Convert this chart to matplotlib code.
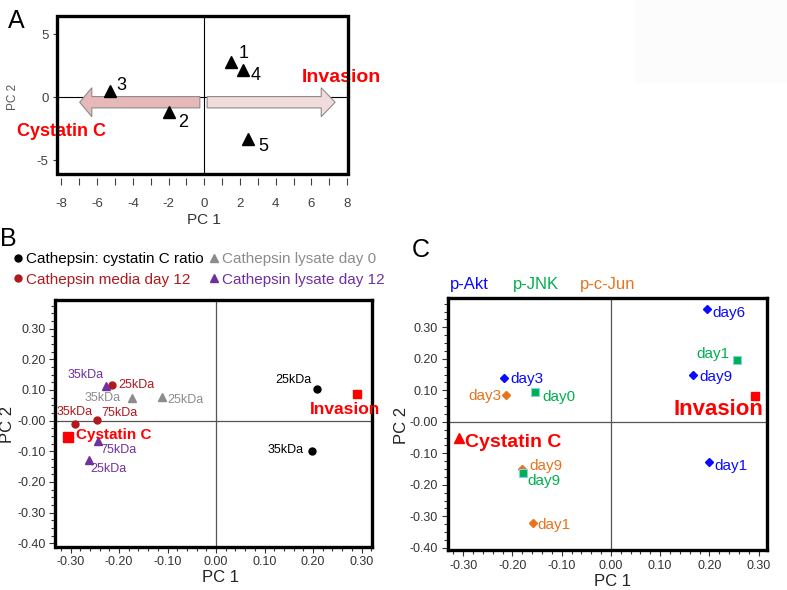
import matplotlib
matplotlib.use('Agg')
import matplotlib.pyplot as plt
from matplotlib.patches import Polygon, Rectangle
from matplotlib.ticker import MultipleLocator, FixedLocator, FixedFormatter

plt.rcParams['font.family'] = ['Liberation Sans', 'DejaVu Sans']
plt.rcParams['axes.unicode_minus'] = False

W, H = 787, 590

# ---------------- data ----------------
# panel A: PCA of samples 1-5
a_labels = ['1', '2', '3', '4', '5']
a_pc1 = [1.48, -1.96, -5.27, 2.15, 2.44]
a_pc2 = [2.78, -1.19, 0.52, 2.17, -3.33]

# panel B: cathepsin loadings
ratio_labels = ['25kDa', '35kDa']
ratio_pc1 = [0.209, 0.197]
ratio_pc2 = [0.102, -0.100]

media_labels = ['25kDa', '75kDa', '35kDa']
media_pc1 = [-0.214, -0.245, -0.291]
media_pc2 = [0.116, 0.002, -0.012]

lys0_labels = ['35kDa', '25kDa']
lys0_pc1 = [-0.174, -0.111]
lys0_pc2 = [0.073, 0.076]

lys12_labels = ['35kDa', '75kDa', '25kDa']
lys12_pc1 = [-0.227, -0.243, -0.261]
lys12_pc2 = [0.112, -0.068, -0.128]

b_invasion = [0.291, 0.087]
b_cystatin = [-0.305, -0.054]

# panel C: signalling loadings
akt_labels = ['day6', 'day3', 'day9', 'day1']
akt_pc1 = [0.195, -0.217, 0.166, 0.199]
akt_pc2 = [0.357, 0.140, 0.150, -0.129]

jnk_labels = ['day1', 'day0', 'day9']
jnk_pc1 = [0.257, -0.155, -0.179]
jnk_pc2 = [0.196, 0.093, -0.164]

jun_labels = ['day3', 'day9', 'day1']
jun_pc1 = [-0.213, -0.180, -0.159]
jun_pc2 = [0.085, -0.150, -0.320]

c_invasion = [0.293, 0.083]
c_cystatin = [-0.308, -0.050]

# label offsets (pixels)
a_off = [(13, 9), (14, -10), (11, 5), (13, -6), (15, -7)]
ratio_off = [(-24, 9), (-26, 1)]
media_off = [(24, 0), (22, 7), (0, 12)]
lys0_off = [(-29, 0), (23, -3)]
lys12_off = [(-20, 11), (20, -9), (19, -9)]
akt_off = [(22, -4), (23, -1), (23, -2), (22, -4)]
jnk_off = [(-25, 6), (24, -5), (21, -8)]
jun_off = [(-21, -1), (24, 3), (21, -2)]

RED = '#ff0000'
DKRED = '#b0191e'
GRAY = '#8c8c8c'
PURPLE = '#7030a0'
BLUE = '#0a0aff'
GREEN = '#00b050'
ORANGE = '#e8731c'
TICK = '#333333'

xt = [-0.3, -0.2, -0.1, 0.0, 0.1, 0.2, 0.3]
xt_lab = ['-0.30', '-0.20', '-0.10', '0.00', '0.10', '0.20', '0.30']
yt = [0.3, 0.2, 0.1, 0.0, -0.1, -0.2, -0.3, -0.4]
yt_lab = ['0.30', '0.20', '0.10', '-0.00', '-0.10', '-0.20', '-0.30', '-0.40']


def add_axes_px(fig, left, top, right, bottom):
    return fig.add_axes([left / W, 1 - bottom / H, (right - left) / W, (bottom - top) / H])


def fpos(x, y):
    return x / W, 1 - y / H


def label_points(ax, xs, ys, labels, offs, color, size):
    for x, y, t, (dx, dy) in zip(xs, ys, labels, offs):
        ax.annotate(t, (x, y), xytext=(dx, dy), textcoords='offset pixels',
                    ha='center', va='center', color=color, fontsize=size, zorder=6)


def arrow(ax, tail, head, tip, yc, body, half, color):
    pts = [(tail, yc + body), (head, yc + body), (head, yc + half), (tip, yc),
           (head, yc - half), (head, yc - body), (tail, yc - body)]
    ax.add_patch(Polygon(pts, closed=True, facecolor=color, edgecolor='#8c8c8c',
                         lw=0.8, zorder=1))


def style_pc_axes(ax):
    ax.xaxis.set_major_locator(FixedLocator(xt))
    ax.xaxis.set_major_formatter(FixedFormatter(xt_lab))
    ax.xaxis.set_minor_locator(MultipleLocator(0.02))
    ax.yaxis.set_major_locator(FixedLocator(yt))
    ax.yaxis.set_major_formatter(FixedFormatter(yt_lab))
    ax.yaxis.set_minor_locator(MultipleLocator(0.025))
    ax.tick_params(axis='both', which='both', direction='out', width=0.8, colors=TICK,
                   labelsize=9)
    ax.tick_params(axis='both', which='major', length=4, pad=3)
    ax.tick_params(axis='both', which='minor', length=3)


fig = plt.figure(figsize=(W / 100, H / 100), dpi=100)
fig.patches.append(Rectangle(fpos(635, 83), 152 / W, 83 / H, transform=fig.transFigure,
                             facecolor='#fcfcfc', edgecolor='none', zorder=0))

# ---------------- panel A ----------------
axA = add_axes_px(fig, 57, 16, 348, 174)
axA.set_xlim(-8.25, 8.05)
axA.set_ylim(-6.1, 6.45)
for s in axA.spines.values():
    s.set_visible(False)
axA.spines['bottom'].set_position(('outward', 3))
axA.add_patch(Rectangle((0, 0), 1, 1, transform=axA.transAxes, fill=False, lw=2.4,
                        edgecolor='black', clip_on=False, zorder=5))
axA.axhline(0, color='black', lw=0.8, zorder=1)
axA.axvline(0, color='black', lw=0.8, zorder=1)
arrow(axA, -0.25, -6.3, -6.98, -0.4, 0.45, 1.15, '#e6b9b8')
arrow(axA, 0.16, 6.55, 7.33, -0.4, 0.45, 1.15, '#f2dcdb')
axA.plot(a_pc1, a_pc2, '^', color='black', ms=9, zorder=4, clip_on=False)
label_points(axA, a_pc1, a_pc2, a_labels, a_off, 'black', 13)
axA.text(7.69, 1.6, 'Invasion', color=RED, fontsize=14, fontweight='bold',
         ha='center', va='center', clip_on=False)
axA.text(-8.0, -2.75, 'Cystatin C', color=RED, fontsize=13, fontweight='bold',
         ha='center', va='center', clip_on=False)
axA.xaxis.set_major_locator(MultipleLocator(2))
axA.xaxis.set_minor_locator(MultipleLocator(1))
axA.yaxis.set_major_locator(MultipleLocator(5))
axA.tick_params(axis='x', which='both', length=5, width=0.8, pad=9, labelsize=9.5,
                colors='#404040')
axA.tick_params(axis='y', length=3, width=0.8, pad=3, labelsize=9.5, colors='#404040')
fig.text(*fpos(204, 220), 'PC 1', ha='center', va='center', fontsize=11, color='#333333')
fig.text(*fpos(13, 97), 'PC 2', ha='center', va='center', fontsize=8.5, color='#555555',
         rotation=90)
fig.text(*fpos(16, 21), 'A', ha='center', va='center', fontsize=18)

# ---------------- panel B ----------------
axB = add_axes_px(fig, 55.5, 300, 371.7, 546.7)
axB.set_xlim(-0.331, 0.321)
axB.set_ylim(-0.411, 0.393)
for s in axB.spines.values():
    s.set_linewidth(2.4)
axB.axhline(0, color='#555555', lw=0.9, zorder=1)
axB.axvline(0, color='#555555', lw=0.9, zorder=1)
h_ratio, = axB.plot(ratio_pc1, ratio_pc2, 'o', color='black', ms=5, zorder=3,
                    label='Cathepsin: cystatin C ratio')
h_media, = axB.plot(media_pc1, media_pc2, 'o', color=DKRED, ms=5, zorder=3,
                    label='Cathepsin media day 12')
h_lys0, = axB.plot(lys0_pc1, lys0_pc2, '^', color=GRAY, ms=5.3, zorder=3,
                   label='Cathepsin lysate day 0')
h_lys12, = axB.plot(lys12_pc1, lys12_pc2, '^', color=PURPLE, ms=5.3, zorder=3,
                    label='Cathepsin lysate day 12')
axB.plot(*b_invasion, 's', color=RED, ms=6, zorder=3)
axB.plot(*b_cystatin, 's', color=RED, ms=6.7, zorder=3)
label_points(axB, ratio_pc1, ratio_pc2, ratio_labels, ratio_off, 'black', 9)
label_points(axB, media_pc1, media_pc2, media_labels, media_off, DKRED, 9)
label_points(axB, lys0_pc1, lys0_pc2, lys0_labels, lys0_off, GRAY, 9)
label_points(axB, lys12_pc1, lys12_pc2, lys12_labels, lys12_off, PURPLE, 9)
axB.annotate('Cystatin C', b_cystatin, xytext=(8, 2), textcoords='offset pixels',
             ha='left', va='center', color=RED, fontsize=11, fontweight='bold', zorder=6)
axB.annotate('Invasion', b_invasion, xytext=(-47, -16), textcoords='offset pixels',
             ha='left', va='center', color=RED, fontsize=12.5, fontweight='bold', zorder=6)
style_pc_axes(axB)
fig.text(*fpos(220, 578), 'PC 1', ha='center', va='center', fontsize=12, color='#222222')
fig.text(*fpos(8, 424), 'PC 2', ha='center', va='center', fontsize=12, color='#222222',
         rotation=90)
fig.text(*fpos(8, 239), 'B', ha='center', va='center', fontsize=18)
fig.legend(handles=[h_ratio, h_media, h_lys0, h_lys12], ncol=2, loc='upper left',
           bbox_to_anchor=fpos(14, 252), frameon=False, fontsize=11, handlelength=0.5,
           handletextpad=0.3, columnspacing=0.4, labelspacing=0.43, borderpad=0,
           borderaxespad=0, labelcolor='markerfacecolor', markerscale=1)

# ---------------- panel C ----------------
axC = add_axes_px(fig, 447.5, 298.3, 767, 550)
axC.set_xlim(-0.332, 0.317)
axC.set_ylim(-0.407, 0.392)
for s in axC.spines.values():
    s.set_linewidth(2.4)
axC.axhline(0, color='#555555', lw=0.9, zorder=1)
axC.axvline(0, color='#555555', lw=0.9, zorder=1)
axC.plot(akt_pc1, akt_pc2, 'D', color=BLUE, ms=3.8, zorder=3)
axC.plot(jun_pc1, jun_pc2, 'D', color=ORANGE, ms=3.8, zorder=3)
axC.plot(jnk_pc1, jnk_pc2, 's', color=GREEN, mec='#7fd3e6', mew=0.8, ms=5.3, zorder=4)
axC.plot(*c_invasion, 's', color=RED, ms=5.8, zorder=3)
axC.plot(*c_cystatin, '^', color=RED, ms=6.5, zorder=3)
label_points(axC, akt_pc1, akt_pc2, akt_labels, akt_off, BLUE, 11)
label_points(axC, jnk_pc1, jnk_pc2, jnk_labels, jnk_off, GREEN, 11)
label_points(axC, jun_pc1, jun_pc2, jun_labels, jun_off, ORANGE, 11)
axC.annotate('Invasion', c_invasion, xytext=(-37, -14), textcoords='offset pixels',
             ha='center', va='center', color=RED, fontsize=16, fontweight='bold', zorder=6)
axC.annotate('Cystatin C', c_cystatin, xytext=(6, -5), textcoords='offset pixels',
             ha='left', va='center', color=RED, fontsize=14, fontweight='bold', zorder=6)
style_pc_axes(axC)
fig.text(*fpos(613, 582), 'PC 1', ha='center', va='center', fontsize=12, color='#222222')
fig.text(*fpos(402, 425), 'PC 2', ha='center', va='center', fontsize=12, color='#222222',
         rotation=90)
fig.text(*fpos(421, 250), 'C', ha='center', va='center', fontsize=18)
fig.text(*fpos(450, 285), 'p-Akt', ha='left', va='center', fontsize=12, color=BLUE)
fig.text(*fpos(513, 285), 'p-JNK', ha='left', va='center', fontsize=12, color=GREEN)
fig.text(*fpos(580, 285), 'p-c-Jun', ha='left', va='center', fontsize=12, color=ORANGE)

fig.savefig('out.png', dpi=100)
